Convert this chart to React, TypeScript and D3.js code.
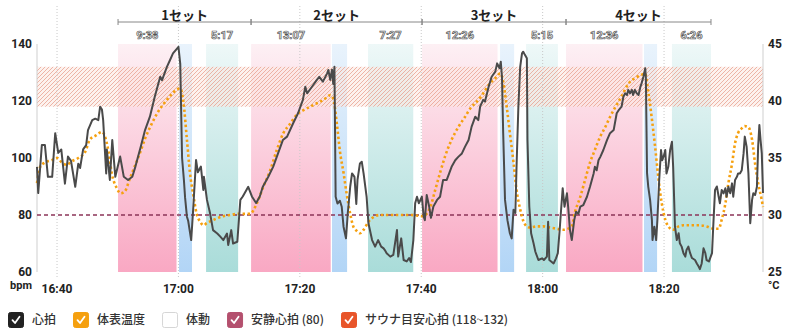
import { useEffect, useRef } from 'react'
import * as d3 from 'd3'

const WIDTH = 800
const HEIGHT = 332
const margin = { top: 44, right: 37, bottom: 60, left: 37 }

// visible time window and axis ticks
const X_START = '16:36:42'
const X_END = '18:36:18'
const X_TICKS = ['16:40', '17:00', '17:20', '17:40', '18:00', '18:20']
const HR_TICKS = [60, 80, 100, 120, 140]
const TEMP_TICKS = [25, 30, 35, 40, 45]
const RESTING_HR = 80
const SAUNA_HR_RANGE = [118, 132]

// sessions
const SET_LABELS = ['1セット', '2セット', '3セット', '4セット']
const SAUNA_START = ['16:50:03', '17:11:58', '17:40:08', '18:03:51']
const SAUNA_TIME = ['9:38', '13:07', '12:26', '12:36']
const WATER_BATH = [
  ['17:00:06', '17:02:14'],
  ['17:25:18', '17:27:47'],
  ['17:52:59', '17:55:18'],
  ['18:16:42', '18:18:51'],
]
const REST_START = ['17:04:33', '17:31:14', '17:57:16', '18:21:18']
const REST_TIME = ['5:17', '7:27', '5:15', '6:26']

// heart rate: [minutes from 16:40, bpm]
const HEART_RATE: [number, number][] = [
  [-3.3, 96.9], [-3.1, 87.7], [-2.5, 104.6], [-2.0, 104.6], [-1.5, 93.4], [-0.8, 93.4], [-0.3, 108.7], [0.2, 101.8],
  [0.7, 103], [1.3, 91], [1.8, 100.5], [2.3, 99], [3.0, 89.9], [3.5, 98], [3.8, 96.5], [4.3, 103], [4.8, 104.5],
  [5.1, 109.8], [5.8, 113.3], [6.3, 113.8], [6.8, 113.3], [7.1, 118], [7.4, 117], [7.6, 113.3], [8.1, 94.6],
  [8.2, 103], [8.7, 92.3], [9.1, 106.3], [9.6, 93.4], [10.4, 100.5], [11.0, 93.4], [11.7, 92.3], [12.4, 93.4],
  [12.9, 96.9], [13.8, 104], [14.5, 109.8], [15.3, 114.5], [16.1, 121.5], [17.0, 128.5], [17.3, 127.3], [18.1, 132],
  [18.6, 134.3], [19.1, 136.7], [19.8, 138.5], [20.0, 139], [20.3, 133], [20.6, 100], [20.9, 92.3], [21.1, 86],
  [21.4, 79.4], [21.6, 78], [22.1, 71.2], [22.4, 81], [22.9, 99.3], [23.2, 95], [23.7, 97], [24.1, 88.8],
  [24.2, 93.4], [24.7, 85.3], [25.2, 80.7], [25.7, 74.7], [26.4, 73.5], [26.9, 72.4], [27.4, 71.2], [28.0, 73.5],
  [28.2, 69.5], [28.7, 74.7], [29.0, 70], [29.7, 70.6], [30.2, 85.3], [30.6, 86.5], [31.5, 89.9], [32.1, 86.5],
  [32.8, 84.2], [33.4, 86.5], [33.9, 89.9], [34.8, 93.4], [35.6, 96.9], [36.2, 100.4], [37.2, 106.3], [37.9, 107.5],
  [38.9, 112.2], [39.7, 115.7], [40.5, 120.4], [40.9, 125], [41.2, 122.7], [42.0, 125], [42.8, 127.4], [43.2, 128.5],
  [43.8, 126.8], [44.5, 129.7], [44.7, 130.9], [45.0, 127.4], [45.3, 131], [45.5, 126], [45.7, 132], [45.9, 86.4],
  [46.2, 84], [46.6, 85], [46.9, 82.9], [47.2, 75.9], [47.6, 71.8], [47.9, 80.7], [48.3, 90], [48.6, 94.6],
  [49.0, 93.4], [49.3, 83.9], [49.5, 92.3], [49.9, 98.1], [50.2, 98.7], [50.5, 94.6], [51.0, 86.4], [51.3, 77.1],
  [51.9, 71.2], [52.4, 68.9], [52.9, 71.2], [53.4, 68.9], [53.8, 68.3], [54.0, 67.7], [54.3, 66.6], [54.9, 65.4],
  [55.4, 66], [56.0, 74.7], [56.2, 65.4], [56.7, 71.8], [57.1, 64.2], [57.6, 63.7], [58.0, 64.9], [58.3, 63.5],
  [58.7, 71.2], [59.0, 84.1], [59.3, 86.4], [59.6, 84.1], [60.1, 86.4], [60.4, 79.4], [60.6, 78.2], [60.9, 87],
  [61.3, 83], [61.6, 79], [62.0, 83], [62.6, 85.3], [63.1, 86.4], [63.6, 92.3], [64.2, 92.3], [64.6, 94.6],
  [65.0, 96.9], [65.6, 99.2], [66.1, 100.4], [66.7, 101.6], [67.2, 103.9], [67.8, 106.3], [68.3, 111], [68.9, 114.5],
  [69.4, 113.3], [69.7, 118], [70.2, 120.4], [70.5, 119.8], [71.1, 125], [71.6, 128.5], [72.2, 130.3], [72.5, 133.2],
  [72.9, 131.5], [73.1, 133.8], [73.3, 128.5], [73.5, 108.7], [73.8, 85.3], [74.2, 78.2], [74.6, 73.6], [74.9, 71.8],
  [75.2, 81.8], [75.5, 80.7], [75.7, 97], [76.0, 118], [76.3, 132], [76.6, 136.7], [76.8, 137.3], [77.1, 136.1],
  [77.4, 135], [77.5, 106.3], [77.8, 83], [78.1, 73.6], [78.5, 70.1], [78.8, 67.1], [79.3, 64.2], [79.9, 64.8],
  [80.2, 64.2], [80.7, 65.4], [80.9, 77.6], [81.1, 64.2], [81.4, 63.7], [81.8, 63], [82.2, 64.8], [82.5, 66.6],
  [82.8, 74.7], [83.0, 80.7], [83.3, 89.4], [83.6, 82.9], [84.0, 87.6], [84.2, 82.9], [84.5, 74.7], [84.8, 71.2],
  [85.2, 78.2], [85.5, 81.1], [85.9, 80.5], [86.2, 82.9], [86.7, 83.5], [87.3, 86.4], [87.8, 89.9], [88.4, 94.6],
  [88.6, 96.9], [88.9, 95.7], [89.2, 99.2], [89.5, 100.4], [90.0, 102.8], [90.6, 106.3], [91.1, 108.7], [91.7, 109.8],
  [92.2, 115.7], [92.6, 117], [93.0, 118], [93.3, 121.5], [93.6, 122.7], [93.9, 122.1], [94.1, 123.9], [94.4, 122.7],
  [94.7, 123.9], [94.9, 122.1], [95.2, 123.9], [95.5, 122.7], [95.8, 122.1], [96.1, 125], [96.3, 126.2], [96.6, 128.5],
  [96.9, 131.5], [97.0, 128.5], [97.2, 94.6], [97.4, 89.9], [97.7, 85.3], [98.0, 78.2], [98.1, 71.2], [98.4, 75.9],
  [98.7, 71.2], [98.9, 78.2], [99.2, 92.3], [99.5, 102.8], [99.7, 99.2], [100.0, 101], [100.2, 102.8], [100.4, 94.6],
  [100.7, 96.9], [101.0, 102.8], [101.3, 105.7], [101.5, 96.9], [101.8, 75.9], [102.1, 71.2], [102.4, 73.6], [102.6, 70.1],
  [102.9, 68.9], [103.2, 66.6], [103.5, 65.4], [103.7, 67.7], [104.0, 68.9], [104.3, 66.6], [104.6, 64.9], [105.1, 64.2],
  [105.4, 63], [105.7, 61.9], [105.9, 61], [106.2, 63], [106.5, 68.3], [106.8, 66.6], [107.0, 64.2], [107.4, 63.7],
  [107.9, 66.6], [108.1, 75.9], [108.4, 88.8], [108.7, 90], [109.0, 86.4], [109.2, 84.1], [109.5, 88.8], [109.8, 87.6],
  [110.1, 89.4], [110.3, 86.4], [110.6, 89.9], [110.9, 87.6], [111.2, 91.1], [111.4, 86.4], [111.7, 92.3], [112.0, 93.4],
  [112.2, 94.6], [112.5, 94.6], [112.8, 95.7], [113.1, 101.6], [113.3, 107.5], [113.6, 104], [113.9, 94.6], [114.2, 77.1],
  [114.5, 85.3], [114.7, 87.6], [115.0, 87], [115.3, 89.9], [115.5, 103.9], [115.7, 111.6], [115.9, 106.3], [116.1, 101.6],
  [116.3, 87.7],
]

// skin temperature: [minutes from 16:40, °C]
const SKIN_TEMP: [number, number][] = [
  [-3.3, 32.8], [-2.8, 34.2], [-2.0, 34.6], [-0.9, 34.8], [0, 35], [0.8, 34.6], [1.6, 34.4], [2.4, 34.7], [3.5, 35],
  [4.6, 35.5], [5.4, 36.6], [6.5, 37], [7.4, 37.3], [7.9, 36.9], [8.5, 35.5], [9.0, 33.7], [9.8, 32.4], [10.5, 31.9],
  [11.2, 32.1], [12.0, 33.2], [12.9, 34.4], [13.7, 35.5], [14.5, 36.7], [15.6, 38], [16.7, 39.1], [17.8, 39.9],
  [18.9, 40.6], [19.7, 41], [20.3, 41.1], [20.8, 40.0], [21.4, 36.6], [21.9, 33.7], [22.5, 31.6], [23.0, 30.1],
  [23.6, 29.4], [24.1, 29.1], [24.7, 29.3], [25.5, 29.5], [26.3, 29.7], [27.4, 29.9], [28.5, 30], [29.9, 30.1],
  [31.8, 30.1], [32.9, 31], [34.0, 32.5], [35.1, 33.9], [36.2, 35.7], [37.3, 37.2], [38.4, 38], [39.5, 38.8],
  [40.6, 39.2], [41.7, 39.5], [42.8, 39.8], [43.9, 40.1], [45.0, 40.5], [45.5, 40.2], [46.1, 38], [46.6, 35.6],
  [47.2, 33.7], [47.7, 31.9], [48.3, 30.1], [48.8, 29], [49.4, 28.6], [49.9, 28.4], [50.5, 28.7], [51.3, 29.4],
  [52.1, 29.8], [53.2, 30], [55.1, 30], [58.4, 30], [60.1, 29.9], [60.9, 30.1], [61.5, 30.7], [62.3, 32.2],
  [63.1, 33.7], [63.9, 35.1], [65.0, 36.6], [66.1, 37.7], [67.2, 38.6], [68.3, 39.5], [68.9, 39.8], [70.0, 40.5],
  [71.1, 41.4], [72.2, 42], [73.0, 42.4], [73.5, 41.7], [74.1, 39.4], [74.6, 37.2], [75.2, 34.6], [75.7, 32.2],
  [76.3, 30.5], [76.8, 29.5], [77.4, 29], [77.9, 28.9], [79.0, 29], [80.1, 29], [81.2, 28.9], [82.3, 28.8],
  [83.4, 28.7], [84.2, 28.8], [84.8, 29], [85.3, 30.2], [86.2, 31.6], [87.0, 33.1], [87.8, 34.6], [88.6, 35.7],
  [89.5, 36.9], [90.3, 37.7], [91.1, 38.6], [91.9, 39.4], [93.0, 40.4], [94.1, 41.5], [95.2, 42], [96.3, 42.3],
  [96.9, 42.4], [97.4, 40.8], [98.0, 38.4], [98.5, 36.1], [99.1, 33.1], [99.6, 31.1], [100.2, 29.6], [100.7, 29],
  [101.5, 28.7], [102.4, 29], [103.2, 29.1], [104.3, 29.1], [105.7, 29.1], [107.0, 29], [108.1, 28.8], [109.0, 28.8],
  [109.5, 29.6], [110.1, 31], [110.6, 32.8], [111.2, 34.5], [111.7, 36.3], [112.2, 37.2], [112.8, 37.6], [113.3, 37.8],
  [113.9, 37.7], [114.5, 36.6], [115.0, 34.5], [115.5, 32.8], [116.1, 31.3], [116.3, 30.7],
]

const LEGEND = [
  { label: '心拍', color: '#222222', checked: true },
  { label: '体表温度', color: '#f5a00f', checked: true },
  { label: '体動', color: '#ffffff', checked: false },
  { label: `安静心拍 (${RESTING_HR})`, color: '#b4506e', checked: true },
  { label: `サウナ目安心拍 (${SAUNA_HR_RANGE[0]}~${SAUNA_HR_RANGE[1]})`, color: '#e8552a', checked: true },
]

const NUM_FONT = 'Roboto, "Noto Sans CJK JP", sans-serif'
const JP_FONT = '"Noto Sans CJK JP", Roboto, sans-serif'

const at = (hms: string) => {
  const [h, m, s = 0] = hms.split(':').map(Number)
  return new Date(2024, 0, 1, h, m, s)
}
const base = at('16:40')
const fromBase = (min: number) => new Date(base.getTime() + min * 60000)
const addDuration = (d: Date, mmss: string) => {
  const [m, s] = mmss.split(':').map(Number)
  return new Date(d.getTime() + (m * 60 + s) * 1000)
}

export default function App() {
  const svgRef = useRef<SVGSVGElement>(null)

  useEffect(() => {
    document.body.style.margin = '0'
    if (!svgRef.current) return
    const svg = d3.select(svgRef.current)
    svg.selectAll('*').remove()

    const left = margin.left
    const right = WIDTH - margin.right
    const top = margin.top
    const bottom = HEIGHT - margin.bottom

    const x = d3.scaleTime().domain([at(X_START), at(X_END)]).range([left, right])
    const yHr = d3.scaleLinear().domain([60, 140]).range([bottom, top])
    const yTemp = d3.scaleLinear().domain([25, 45]).range([bottom, top])

    const defs = svg.append('defs')
    const grad = (id: string, c0: string, c1: string) => {
      const g = defs.append('linearGradient').attr('id', id).attr('x1', 0).attr('y1', 0).attr('x2', 0).attr('y2', 1)
      g.append('stop').attr('offset', '0%').attr('stop-color', c0)
      g.append('stop').attr('offset', '100%').attr('stop-color', c1)
    }
    grad('sauna', '#fdf0f4', '#f9a8c3')
    grad('water', '#e9f3fc', '#b2d5f6')
    grad('rest', '#eef8f8', '#a9dcd9')

    const hatch = defs.append('pattern')
      .attr('id', 'hatch')
      .attr('patternUnits', 'userSpaceOnUse')
      .attr('width', 4).attr('height', 4)
    hatch.append('rect').attr('width', 4).attr('height', 4).attr('fill', '#fbe6df').attr('opacity', 0.55)
    hatch.append('path')
      .attr('d', 'M-1,1 L1,-1 M0,4 L4,0 M3,5 L5,3')
      .attr('stroke', '#e59a86')
      .attr('stroke-width', 0.7)

    // session bands
    const bands: { x0: Date; x1: Date; fill: string }[] = []
    SAUNA_START.forEach((s, i) => {
      bands.push({ x0: at(s), x1: addDuration(at(s), SAUNA_TIME[i]), fill: 'url(#sauna)' })
      bands.push({ x0: at(WATER_BATH[i][0]), x1: at(WATER_BATH[i][1]), fill: 'url(#water)' })
      bands.push({ x0: at(REST_START[i]), x1: addDuration(at(REST_START[i]), REST_TIME[i]), fill: 'url(#rest)' })
    })
    svg.append('g')
      .selectAll('rect')
      .data(bands)
      .join('rect')
      .attr('x', d => x(d.x0))
      .attr('width', d => x(d.x1) - x(d.x0))
      .attr('y', top)
      .attr('height', bottom - top)
      .attr('fill', d => d.fill)

    // sauna target heart-rate zone
    svg.append('rect')
      .attr('x', left)
      .attr('width', right - left)
      .attr('y', yHr(SAUNA_HR_RANGE[1]))
      .attr('height', yHr(SAUNA_HR_RANGE[0]) - yHr(SAUNA_HR_RANGE[1]))
      .attr('fill', 'url(#hatch)')

    // vertical grid
    svg.append('g')
      .selectAll('line')
      .data(X_TICKS)
      .join('line')
      .attr('x1', d => x(at(d))).attr('x2', d => x(at(d)))
      .attr('y1', 6).attr('y2', bottom + 6)
      .attr('stroke', '#c8c8c8')
      .attr('stroke-width', 1)
      .attr('stroke-dasharray', '1 2')

    // axis lines
    svg.append('g')
      .selectAll('line')
      .data([left, right])
      .join('line')
      .attr('x1', d => d).attr('x2', d => d)
      .attr('y1', top).attr('y2', bottom)
      .attr('stroke', '#cfcfcf')

    // resting heart rate
    svg.append('line')
      .attr('x1', left).attr('x2', right)
      .attr('y1', yHr(RESTING_HR)).attr('y2', yHr(RESTING_HR))
      .attr('stroke', '#8c3558')
      .attr('stroke-width', 1.5)
      .attr('stroke-dasharray', '4 3')

    // skin temperature
    const tempLine = d3.line<[number, number]>()
      .x(d => x(fromBase(d[0])))
      .y(d => yTemp(d[1]))
      .curve(d3.curveMonotoneX)
    svg.append('path')
      .datum(SKIN_TEMP)
      .attr('d', tempLine)
      .attr('fill', 'none')
      .attr('stroke', '#f5a00f')
      .attr('stroke-width', 2.6)
      .attr('stroke-dasharray', '2.4 2.6')

    // heart rate
    const hrLine = d3.line<[number, number]>()
      .x(d => x(fromBase(d[0])))
      .y(d => yHr(d[1]))
    svg.append('path')
      .datum(HEART_RATE)
      .attr('d', hrLine)
      .attr('fill', 'none')
      .attr('stroke', '#4a4a4a')
      .attr('stroke-width', 2)
      .attr('stroke-linejoin', 'round')

    // left axis
    svg.append('g')
      .selectAll('text')
      .data(HR_TICKS)
      .join('text')
      .attr('x', left - 5)
      .attr('y', d => yHr(d))
      .attr('dy', '0.35em')
      .attr('text-anchor', 'end')
      .attr('font-family', NUM_FONT)
      .attr('font-weight', 700)
      .attr('font-size', 12)
      .attr('fill', '#222')
      .text(d => d)
    svg.append('text')
      .attr('x', 10).attr('y', bottom + 17)
      .attr('font-family', NUM_FONT).attr('font-weight', 700).attr('font-size', 11).attr('fill', '#222')
      .text('bpm')

    // right axis
    svg.append('g')
      .selectAll('text')
      .data(TEMP_TICKS)
      .join('text')
      .attr('x', right + 5)
      .attr('y', d => yTemp(d))
      .attr('dy', '0.35em')
      .attr('font-family', NUM_FONT)
      .attr('font-weight', 700)
      .attr('font-size', 12)
      .attr('fill', '#222')
      .text(d => d)
    svg.append('text')
      .attr('x', right + 5).attr('y', bottom + 17)
      .attr('font-family', NUM_FONT).attr('font-weight', 700).attr('font-size', 11).attr('fill', '#222')
      .text('°C')

    // time axis
    svg.append('g')
      .selectAll('text')
      .data(X_TICKS)
      .join('text')
      .attr('x', d => x(at(d)))
      .attr('y', bottom + 21)
      .attr('text-anchor', 'middle')
      .attr('font-family', NUM_FONT)
      .attr('font-weight', 700)
      .attr('font-size', 12)
      .attr('fill', '#222')
      .text(d => d3.timeFormat('%H:%M')(at(d)))

    // set brackets
    const sets = SET_LABELS.map((label, i) => {
      const x0 = at(SAUNA_START[i])
      const x1 = i < SET_LABELS.length - 1
        ? at(SAUNA_START[i + 1])
        : addDuration(at(REST_START[i]), REST_TIME[i])
      return { label, x0: x(x0), x1: x(x1) }
    })
    const setG = svg.append('g')
    setG.selectAll('path')
      .data(sets)
      .join('path')
      .attr('d', d => `M${d.x0},19V25M${d.x0},22H${d.x1}M${d.x1},19V25`)
      .attr('fill', 'none')
      .attr('stroke', '#888')
      .attr('stroke-width', 1)
    setG.selectAll('text')
      .data(sets)
      .join('text')
      .attr('x', d => (d.x0 + d.x1) / 2)
      .attr('y', 20)
      .attr('text-anchor', 'middle')
      .attr('font-family', JP_FONT)
      .attr('font-weight', 700)
      .attr('font-size', 13)
      .attr('fill', '#222')
      .text(d => d.label)

    // durations above sauna and rest bands
    const durations: { cx: number; text: string }[] = []
    SAUNA_START.forEach((s, i) => {
      durations.push({ cx: (x(at(s)) + x(addDuration(at(s), SAUNA_TIME[i]))) / 2, text: SAUNA_TIME[i] })
      durations.push({
        cx: (x(at(REST_START[i])) + x(addDuration(at(REST_START[i]), REST_TIME[i]))) / 2,
        text: REST_TIME[i],
      })
    })
    svg.append('g')
      .selectAll('text')
      .data(durations)
      .join('text')
      .attr('x', d => d.cx)
      .attr('y', 39)
      .attr('text-anchor', 'middle')
      .attr('font-family', NUM_FONT)
      .attr('font-weight', 700)
      .attr('font-size', 11)
      .attr('fill', '#fff')
      .attr('stroke', '#555')
      .attr('stroke-width', 0.7)
      .text(d => d.text)

    // legend
    const legend = svg.append('g').attr('transform', 'translate(8,312)')
    let lx = 0
    LEGEND.forEach(item => {
      const g = legend.append('g').attr('transform', `translate(${lx},0)`)
      g.append('rect')
        .attr('x', 0.5).attr('y', 0.5)
        .attr('width', 15).attr('height', 15)
        .attr('rx', 2)
        .attr('fill', item.color)
        .attr('stroke', item.checked ? item.color : '#d6d6d6')
      if (item.checked) {
        g.append('path')
          .attr('d', 'M4.5,8.2 L7,11 L11.5,4.8')
          .attr('fill', 'none')
          .attr('stroke', '#fff')
          .attr('stroke-width', 1.8)
          .attr('stroke-linecap', 'round')
          .attr('stroke-linejoin', 'round')
      }
      const txt = g.append('text')
        .attr('x', 24).attr('y', 8)
        .attr('dy', '0.35em')
        .attr('font-family', JP_FONT)
        .attr('font-weight', 500)
        .attr('font-size', 12)
        .attr('fill', '#333')
        .text(item.label)
      const w = (txt.node() as SVGTextElement).getComputedTextLength()
      lx += 24 + w + 17
    })
  }, [])

  return <svg ref={svgRef} width={WIDTH} height={HEIGHT} style={{ display: 'block', background: '#fff' }} />
}
